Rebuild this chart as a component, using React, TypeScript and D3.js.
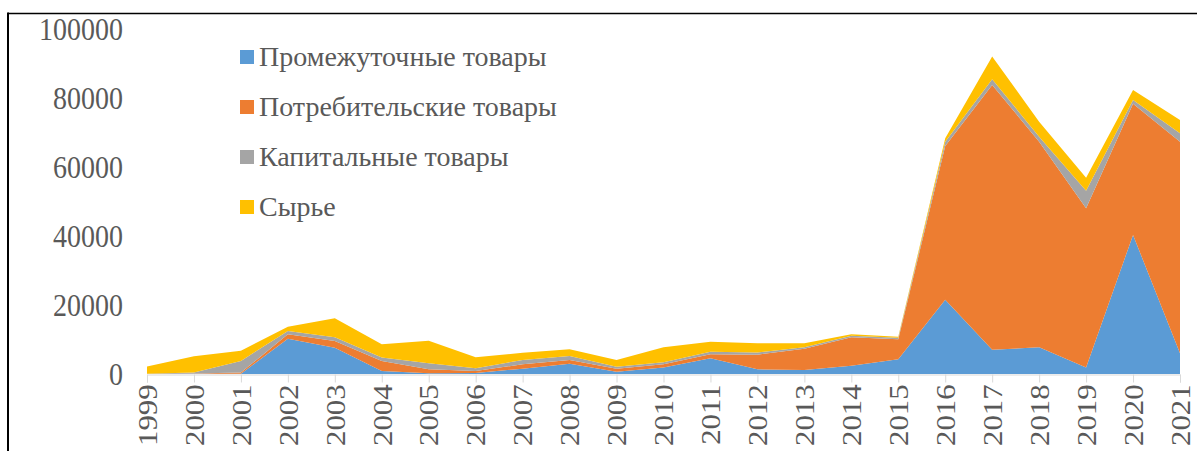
import * as React from 'react';
import * as d3 from 'd3';

const years = d3.range(1999, 2022);

const seriesNames = ['Промежуточные товары', 'Потребительские товары', 'Капитальные товары', 'Сырье'];
const seriesColors = ['#5b9bd5', '#ed7d31', '#a5a5a5', '#ffc000'];

const intermediate = [0, 50, 100, 10200, 7600, 900, 200, 300, 1550, 3000, 650, 1850, 4550, 1350, 1150, 2400, 4250, 21500, 7000, 7750, 1850, 40300, 6000];
const consumer = [0, 100, 300, 1300, 1950, 2900, 1150, 600, 1250, 1050, 900, 1000, 1150, 4250, 6200, 8250, 5800, 44600, 76800, 59600, 46200, 38000, 61350];
const capital = [100, 300, 3400, 1000, 1100, 950, 1750, 750, 1250, 1150, 550, 550, 750, 600, 400, 450, 450, 1200, 1600, 1450, 5100, 1150, 2400];
const raw = [2100, 4700, 2950, 1200, 5500, 3850, 6550, 3200, 2100, 2000, 1950, 4350, 2900, 2700, 1150, 400, 300, 1000, 6600, 4350, 3750, 2900, 3850];

const yTicks = [0, 20000, 40000, 60000, 80000, 100000];

const width = 1197;
const height = 451;
const textColor = '#595959';
const font = 'Liberation Serif';

export default function App() {
  const ref = React.useRef<SVGSVGElement>(null);

  React.useEffect(() => {
    const svg = d3.select(ref.current);
    svg.selectAll('*').remove();

    const x = d3.scaleLinear().domain([1999, 2021]).range([147, 1180]);
    const y = d3.scaleLinear().domain([0, 100000]).range([374, 29]);

    const rows = years.map((year, i) => ({
      year,
      s0: intermediate[i],
      s1: consumer[i],
      s2: capital[i],
      s3: raw[i],
    }));
    const layers = d3.stack<any>().keys(['s0', 's1', 's2', 's3'])(rows);

    const area = d3
      .area<any>()
      .x(d => x(d.data.year))
      .y0(d => y(d[0]))
      .y1(d => y(d[1]));

    // frame
    svg.append('line').attr('x1', 8).attr('x2', width).attr('y1', 13.5).attr('y2', 13.5)
      .attr('stroke', '#000').attr('stroke-width', 1.5);
    svg.append('line').attr('x1', 8).attr('x2', 8).attr('y1', 12.5).attr('y2', height)
      .attr('stroke', '#000').attr('stroke-width', 2);

    svg.append('g')
      .selectAll('path')
      .data(layers)
      .enter()
      .append('path')
      .attr('d', area)
      .attr('fill', (_, i) => seriesColors[i]);

    // x axis
    const xAxis = svg.append('g').attr('transform', 'translate(0,374.5)')
      .call(d3.axisBottom(x).tickValues(years).tickSize(8).tickFormat(d3.format('d')));
    xAxis.attr('font-family', null).attr('font-size', null);
    xAxis.select('.domain').attr('stroke', '#d9d9d9').attr('stroke-width', 1);
    xAxis.selectAll('.tick line').attr('stroke', '#d9d9d9');
    xAxis.selectAll('.tick text')
      .attr('transform', 'rotate(-90) scale(1.1,1)')
      .attr('text-anchor', 'end')
      .attr('x', -9)
      .attr('y', 0)
      .attr('dy', '0.33em')
      .style('fill', textColor)
      .style('font-family', font)
      .style('font-size', '28px');

    // y axis
    const yAxis = svg.append('g').attr('transform', 'translate(123,0)')
      .call(d3.axisLeft(y).tickValues(yTicks).tickSize(0).tickPadding(0).tickFormat(d3.format('d')));
    yAxis.attr('font-family', null).attr('font-size', null);
    yAxis.select('.domain').remove();
    yAxis.selectAll('.tick text')
      .attr('transform', 'scale(1,1.1)')
      .attr('x', 0)
      .attr('dy', '0.33em')
      .style('fill', textColor)
      .style('font-family', font)
      .style('font-size', '28px');

    // legend
    const legend = svg.append('g')
      .selectAll('g')
      .data(seriesNames)
      .enter()
      .append('g')
      .attr('transform', (_, i) => `translate(240,${57 + i * 50})`);
    legend.append('rect')
      .attr('x', 0).attr('y', -7).attr('width', 14).attr('height', 14)
      .attr('fill', (_, i) => seriesColors[i]);
    legend.append('text')
      .attr('x', 19)
      .attr('dy', '0.33em')
      .style('fill', textColor)
      .style('font-family', font)
      .style('font-size', '28px')
      .text(d => d);
  }, []);

  return (
    <svg
      ref={ref}
      width={width}
      height={height}
      style={{ position: 'absolute', left: 0, top: 0, background: '#fff' }}
    />
  );
}
